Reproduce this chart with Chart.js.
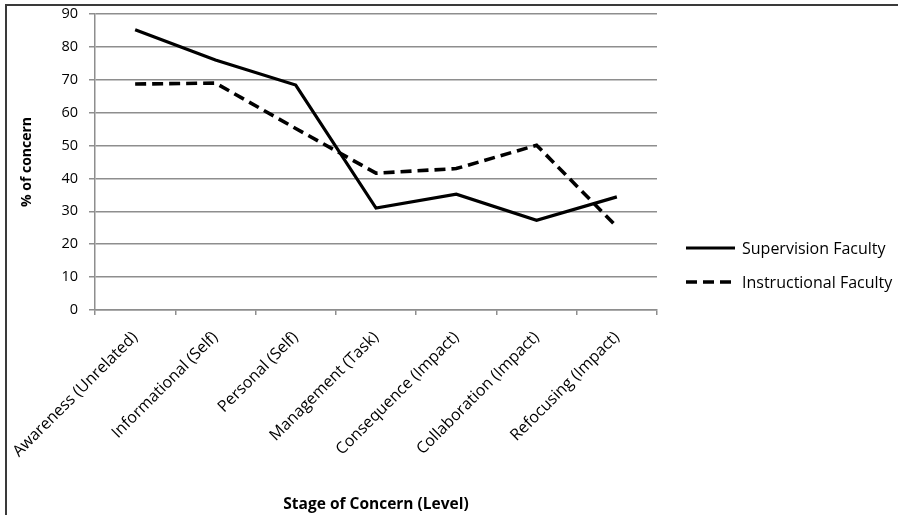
<!DOCTYPE html>
<html>
<head>
<meta charset="utf-8">
<script src="https://cdn.jsdelivr.net/npm/chart.js@4/dist/chart.umd.min.js"></script>
<style>
  html, body { margin: 0; padding: 0; background: #fff; }
  #wrap { position: relative; width: 898px; height: 515px; overflow: hidden; }
  canvas { display: block; }
</style>
</head>
<body>
<div id="wrap"><canvas id="c" width="898" height="515"></canvas></div>
<script>
// Stages of concern (x categories)
const stages = [
  'Awareness (Unrelated)',
  'Informational (Self)',
  'Personal (Self)',
  'Management (Task)',
  'Consequence (Impact)',
  'Collaboration (Impact)',
  'Refocusing (Impact)'
];
// Percent of concern per stage
const supervisionFaculty = [85.2, 76, 68.4, 31, 35.2, 27.3, 34.4];
const instructionalFaculty = [68.7, 69, 55.2, 41.6, 43, 50.1, 25.3];
const yTicks = [0, 10, 20, 30, 40, 50, 60, 70, 80, 90];

const FONT = "'Open Sans', 'Noto Sans', sans-serif";
const GRID = '#8e8e8e';

// Frame around the whole figure
const framePlugin = {
  id: 'frame',
  beforeDraw(chart) {
    const ctx = chart.ctx;
    ctx.save();
    ctx.fillStyle = '#fff';
    ctx.fillRect(0, 0, chart.width, chart.height);
    ctx.strokeStyle = '#3a3a3a';
    ctx.lineWidth = 2;
    ctx.strokeRect(6, 5, chart.width + 20, chart.height + 20);
    ctx.restore();
  }
};

// Legend with line samples, placed to the right of the plot
const sideLegend = {
  id: 'sideLegend',
  afterDraw(chart) {
    const ctx = chart.ctx;
    const area = chart.chartArea;
    const x0 = area.right + 29;
    const yStart = area.top + 234;
    const gap = 34;
    ctx.save();
    ctx.font = '16px ' + FONT;
    ctx.fillStyle = '#000';
    ctx.textBaseline = 'middle';
    chart.data.datasets.forEach((ds, i) => {
      const y = yStart + i * gap;
      ctx.beginPath();
      ctx.setLineDash(ds.borderDash || []);
      ctx.lineWidth = ds.borderWidth;
      ctx.strokeStyle = ds.borderColor;
      ctx.moveTo(x0, y);
      ctx.lineTo(x0 + 49, y);
      ctx.stroke();
      ctx.setLineDash([]);
      ctx.fillText(ds.label, x0 + 56, y + 1);
    });
    ctx.restore();
  }
};

new Chart(document.getElementById('c'), {
  type: 'line',
  data: {
    labels: stages,
    datasets: [
      {
        label: 'Supervision Faculty',
        data: supervisionFaculty,
        borderColor: '#000',
        borderWidth: 3.2,
        pointRadius: 0,
        tension: 0,
        fill: false
      },
      {
        label: 'Instructional Faculty',
        data: instructionalFaculty,
        borderColor: '#000',
        borderWidth: 3.6,
        borderDash: [11, 6],
        pointRadius: 0,
        tension: 0,
        fill: false
      }
    ]
  },
  options: {
    responsive: false,
    animation: false,
    devicePixelRatio: 1,
    layout: { padding: { left: 0, top: 14, right: 241, bottom: 0 } },
    plugins: {
      legend: { display: false },
      tooltip: { enabled: false }
    },
    scales: {
      x: {
        offset: true,
        grid: {
          display: true,
          offset: true,
          drawOnChartArea: false,
          drawTicks: true,
          tickLength: 5,
          color: GRID,
          lineWidth: 1.5
        },
        border: { display: true, color: GRID, width: 1.5 },
        ticks: {
          autoSkip: false,
          minRotation: 45,
          maxRotation: 45,
          padding: 13,
          color: '#000',
          font: { family: FONT, size: 16 }
        },
        title: {
          display: true,
          text: 'Stage of Concern (Level)',
          color: '#000',
          font: { family: FONT, size: 15.5, weight: 'bold' },
          padding: { top: 0, bottom: 1 }
        },
        afterFit(scale) {
          scale.height = 205;
          scale.paddingLeft = 0;
          scale.paddingRight = 0;
        }
      },
      y: {
        min: 0,
        max: 90,
        afterBuildTicks(scale) { scale.ticks = yTicks.map(v => ({ value: v })); },
        grid: {
          color: GRID,
          lineWidth: 1.5,
          drawTicks: true,
          tickLength: 6
        },
        border: { display: true, color: GRID, width: 1.5 },
        ticks: {
          padding: 11,
          color: '#000',
          font: { family: FONT, size: 14.5 }
        },
        title: {
          display: true,
          text: '% of concern',
          color: '#000',
          font: { family: FONT, size: 14, weight: 'bold' },
          padding: { top: 19, bottom: 0 }
        },
        afterFit(scale) {
          scale.width = 95;
          scale.paddingTop = 0;
          scale.paddingBottom = 0;
        }
      }
    }
  },
  plugins: [framePlugin, sideLegend]
});
</script>
</body>
</html>
